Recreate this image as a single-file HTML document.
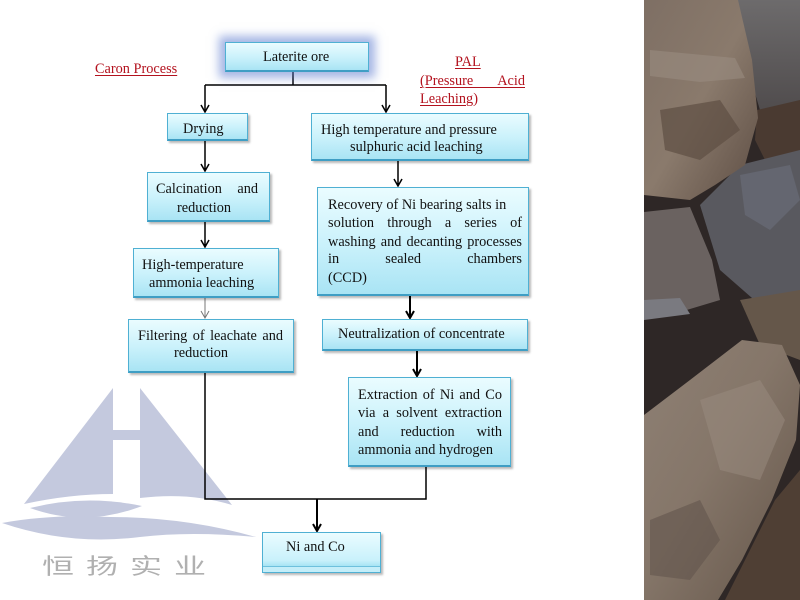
<!DOCTYPE html>
<html>
<head>
<meta charset="utf-8">
<style>
html,body{margin:0;padding:0;}
body{width:800px;height:600px;position:relative;overflow:hidden;background:#fff;font-family:"Liberation Serif",serif;font-size:14.3px;color:#111;}
.box{position:absolute;box-sizing:border-box;border:1px solid #4fb0d3;border-bottom:2px solid #3f9ec4;background:linear-gradient(#eafcff,#c9f1fb 55%,#a9e4f4);box-shadow:2px 2px 2px rgba(0,0,0,0.28);}
.t{position:absolute;line-height:17px;white-space:nowrap;}
.j{text-align:justify;text-align-last:justify;white-space:normal;}
.red{color:#b3121e;text-decoration:underline;text-decoration-thickness:1px;text-underline-offset:2px;}
</style>
</head>
<body>

<!-- logo watermark -->
<svg style="position:absolute;left:0;top:0" width="800" height="600">
  <g fill="#c4c9de">
    <path d="M113,388 L113,494 Q70,494 24,504 Z"/>
    <path d="M140,388 L232,505 Q190,492 140,498 Z"/>
    <rect x="113" y="430" width="27" height="10"/>
    <path d="M30,508 Q85,494 142,506 Q85,528 30,508 Z"/>
    <path d="M2,523 Q50,514 110,517 Q185,517 256,537 Q190,531 140,537 Q70,546 2,523 Z"/>
  </g>
</svg>
<div class="t" style="left:42px;top:555px;font-family:'Liberation Sans','Noto Sans CJK SC',sans-serif;font-size:32px;line-height:32px;letter-spacing:12px;color:#b0b0b0;transform:scaleY(0.7);transform-origin:0 0;">恒扬实业</div>

<!-- photo of rocks -->
<svg style="position:absolute;left:644px;top:0" width="156" height="600" viewBox="644 0 156 600">
  <defs>
    <linearGradient id="g1" x1="0" y1="0" x2="1" y2="1">
      <stop offset="0" stop-color="#7e6f64"/><stop offset="0.5" stop-color="#8a7a6c"/><stop offset="1" stop-color="#5e4e44"/>
    </linearGradient>
    <linearGradient id="g2" x1="0" y1="0" x2="1" y2="1">
      <stop offset="0" stop-color="#8e8074"/><stop offset="0.45" stop-color="#857669"/><stop offset="1" stop-color="#645549"/>
    </linearGradient>
    <linearGradient id="g3" x1="0" y1="0" x2="0" y2="1">
      <stop offset="0" stop-color="#6d6b6c"/><stop offset="1" stop-color="#4e4a4b"/>
    </linearGradient>
  </defs>
  <rect x="644" y="0" width="156" height="600" fill="#2e2726"/>
  <path d="M735,0 L800,0 L800,110 L780,118 L760,110 L745,60 Z" fill="url(#g3)"/>
  <path d="M757,110 L800,100 L800,175 L770,170 L755,140 Z" fill="#4a3a31"/>
  <path d="M700,205 L740,165 L800,150 L800,300 L760,305 L720,270 Z" fill="#59595f"/>
  <path d="M740,175 L790,165 L800,200 L770,230 L745,215 Z" fill="#646670"/>
  <path d="M644,0 L738,0 L752,60 L758,118 L745,165 L715,185 L690,200 L644,195 Z" fill="url(#g1)"/>
  <path d="M650,50 L735,58 L745,78 L700,82 L650,76 Z" fill="#9a8c80" opacity="0.6"/>
  <path d="M660,110 L720,100 L740,130 L700,160 L665,150 Z" fill="#5e4e43" opacity="0.7"/>
  <path d="M644,212 L690,207 L712,260 L720,300 L680,312 L644,318 Z" fill="#6a6260"/>
  <path d="M644,300 L680,298 L690,314 L644,320 Z" fill="#7a7a80"/>
  <path d="M740,300 L800,290 L800,360 L760,345 Z" fill="#65574a"/>
  <path d="M644,415 L690,380 L742,340 L782,345 L800,385 L796,440 L772,500 L742,560 L718,600 L644,600 Z" fill="url(#g2)"/>
  <path d="M700,400 L760,380 L785,420 L760,480 L720,470 Z" fill="#9a8c80" opacity="0.5"/>
  <path d="M650,520 L700,500 L720,540 L690,580 L650,575 Z" fill="#62554d" opacity="0.6"/>
  <path d="M745,560 L775,500 L800,470 L800,600 L725,600 Z" fill="#4f3f34"/>
</svg>

<!-- connectors -->
<svg style="position:absolute;left:0;top:0" width="644" height="600">
  <g stroke="#000" stroke-width="1.5" fill="none">
    <path d="M293,71 V85 M205,85 H386 M205,85 V112 M386,85 V112"/>
    <path d="M201,105 L205,112 L209,105 M382,105 L386,112 L390,105"/>
    <path d="M205,140 V171 M201,164 L205,171 L209,164"/>
    <path d="M205,221 V247 M201,240 L205,247 L209,240"/>
    <path d="M398,160 V186 M394,179 L398,186 L402,179"/>
    <path d="M410,295 V318 M406,311 L410,318 L414,311" stroke-width="2"/>
    <path d="M417,350 V376 M413,369 L417,376 L421,369" stroke-width="2"/>
    <path d="M205,372 V499 H426 V466"/>
    <path d="M317,499 V531 M313,524 L317,531 L321,524" stroke-width="2"/>
  </g>
  <path d="M205,297 V318 M201,311 L205,318 L209,311" stroke="#777" stroke-width="1" fill="none"/>
</svg>

<!-- Laterite ore -->
<div class="box" style="left:225px;top:42px;width:144px;height:30px;box-shadow:0 0 9px 6px rgba(90,120,205,0.55);"></div>
<div class="t" style="left:263px;top:49px;">Laterite ore</div>

<!-- red labels -->
<div class="t red" style="left:95px;top:61px;">Caron Process</div>
<div class="t red" style="left:455px;top:54px;">PAL</div>
<div class="t red j" style="left:420px;top:73px;width:105px;">(Pressure Acid</div>
<div class="t" style="left:420px;top:91px;color:#b3121e;"><span class="red">Leaching</span>)</div>

<!-- Left column -->
<div class="box" style="left:167px;top:113px;width:81px;height:28px;"></div>
<div class="t" style="left:183px;top:121px;">Drying</div>

<div class="box" style="left:147px;top:172px;width:123px;height:50px;"></div>
<div class="t j" style="left:156px;top:181px;width:102px;">Calcination and</div>
<div class="t" style="left:177px;top:200px;">reduction</div>

<div class="box" style="left:133px;top:248px;width:146px;height:50px;"></div>
<div class="t" style="left:142px;top:257px;">High-temperature</div>
<div class="t" style="left:149px;top:275px;">ammonia leaching</div>

<div class="box" style="left:128px;top:319px;width:166px;height:54px;"></div>
<div class="t j" style="left:138px;top:328px;width:145px;">Filtering of leachate and</div>
<div class="t" style="left:174px;top:345px;">reduction</div>

<!-- Right column -->
<div class="box" style="left:311px;top:113px;width:218px;height:48px;"></div>
<div class="t" style="left:321px;top:122px;">High temperature and pressure</div>
<div class="t" style="left:350px;top:139px;">sulphuric acid leaching</div>

<div class="box" style="left:317px;top:187px;width:212px;height:109px;"></div>
<div class="t" style="left:328px;top:197px;">Recovery of Ni bearing salts in</div>
<div class="t j" style="left:328px;top:215px;width:194px;">solution through a series of</div>
<div class="t j" style="left:328px;top:234px;width:194px;">washing and decanting processes</div>
<div class="t j" style="left:328px;top:251px;width:194px;">in sealed chambers</div>
<div class="t" style="left:328px;top:270px;">(CCD)</div>

<div class="box" style="left:322px;top:319px;width:206px;height:32px;"></div>
<div class="t" style="left:338px;top:326px;">Neutralization of concentrate</div>

<div class="box" style="left:348px;top:377px;width:163px;height:90px;"></div>
<div class="t j" style="left:358px;top:387px;width:144px;">Extraction of Ni and Co</div>
<div class="t j" style="left:358px;top:405px;width:144px;">via a solvent extraction</div>
<div class="t j" style="left:358px;top:424px;width:144px;">and reduction with</div>
<div class="t" style="left:358px;top:442px;">ammonia and hydrogen</div>

<!-- Ni and Co -->
<div class="box" style="left:262px;top:532px;width:119px;height:41px;border-bottom:1px solid #4fb0d3;background:linear-gradient(#eafcff,#c9f1fb 70%,#a9e4f4 84%,#4fb0d3 85%,#4fb0d3 86%,#c4eef9 87%,#c4eef9);"></div>
<div class="t" style="left:286px;top:539px;">Ni and Co</div>

</body>
</html>
